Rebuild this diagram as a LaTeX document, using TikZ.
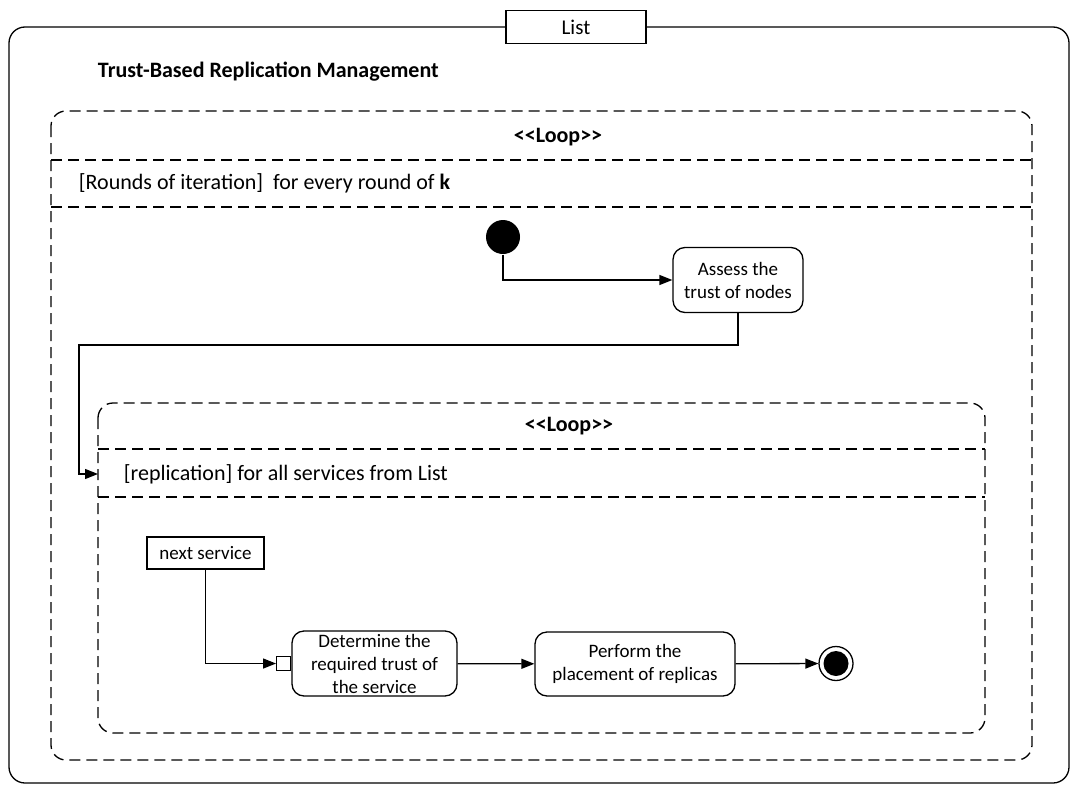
\documentclass[tikz,border=0pt]{standalone}
\usepackage{fontspec}
\setmainfont{Carlito}
\usetikzlibrary{arrows.meta,positioning}

\begin{document}
\begin{tikzpicture}[x=1pt,y=-1pt,line width=1.3pt,
  every node/.style={font=\fontsize{19}{23}\selectfont},
  frag/.style={dash pattern=on 11pt off 6pt,rounded corners=15pt},
  sep/.style={dash pattern=on 11pt off 6pt},
  action/.style={draw,rounded corners=12pt,align=center,inner sep=0pt},
  flow/.style={-{Triangle[length=13pt,width=10pt]}},
  big/.style={font=\fontsize{22}{26}\selectfont},
  bigbold/.style={font=\fontsize{22}{26}\selectfont\bfseries}]
\useasboundingbox (0,0) rectangle (1070,784);
% outer frame
\draw[rounded corners=16pt] (9,27) rectangle (1069,783);
\node[draw,fill=white,font=\fontsize{21}{25}\selectfont,minimum width=140pt,minimum height=33pt] (list) at (576,27) {List};
\node[bigbold,anchor=west] (title) at (94,72) {Trust-Based Replication Management};
% outer loop
\draw[frag] (51,111) rectangle (1032,760);
\draw[sep] (51,160) -- (1032,160);
\draw[sep] (51,207) -- (1032,207);
\node[bigbold] (loopa) at (558,137) {<{}<Loop>{}>};
\node[big,anchor=west] (guarda) at (75,183) {[Rounds of iteration]\ \ for every round of \textbf{k}};
% inner loop
\draw[frag] (98,403) rectangle (985,733);
\draw[sep] (98,449) -- (985,449);
\draw[sep] (98,497) -- (985,497);
\node[bigbold] (loopb) at (569,426) {<{}<Loop>{}>};
\node[big,anchor=west] (guardb) at (120,474) {[replication] for all services from List};
\coordinate (entry) at (98,474);
\coordinate (bend) at (79,345);
% actions
\node[circle,fill,minimum size=34pt,inner sep=0pt] (start) at (503,237) {};
\node[action,minimum width=130pt,minimum height=65pt] (assess) at (738,280) {Assess the\\trust of nodes};
\node[draw,minimum width=117pt,minimum height=32pt,inner sep=0pt] (next) at (205.5,553) {next service};
\node[action,minimum width=165pt,minimum height=65pt] (determine) at (374.5,663.5) {Determine the\\required trust of\\the service};
\node[draw,minimum size=14pt,inner sep=0pt,anchor=east] (pin) at (determine.west) {};
\node[action,minimum width=200pt,minimum height=64pt] (perform) at (635,664) {Perform the\\placement of replicas};
\node[circle,draw,minimum size=34pt,inner sep=0pt] (stop) at (836,663.5) {};
\fill (stop.center) circle (12.5);
% flows
\draw[flow] (start.south) |- (assess.west);
\draw[flow] (assess.south) |- (bend) |- (entry);
\draw[flow] (next.south) |- (pin.west);
\draw[flow] (determine) -- (perform);
\draw[flow] (perform) -- (stop);
\end{tikzpicture}
\end{document}
